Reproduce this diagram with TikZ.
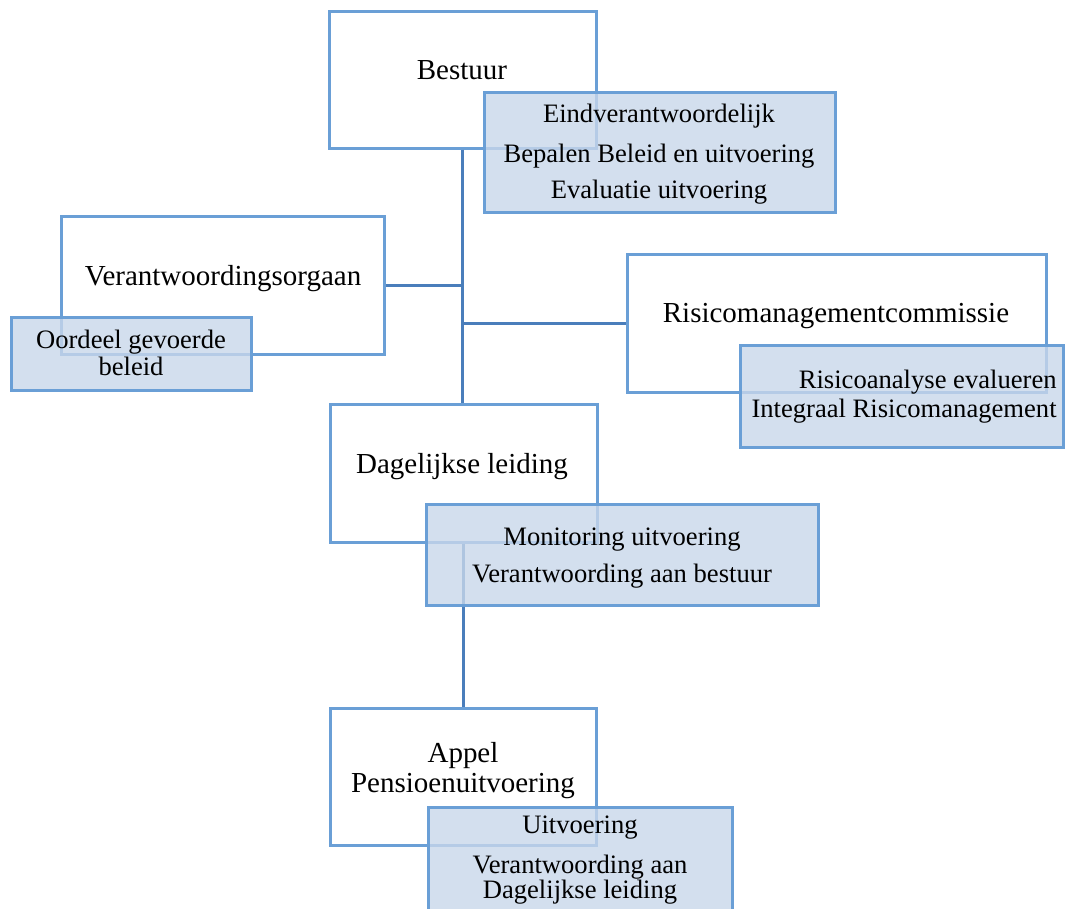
\documentclass[tikz,border=0pt]{standalone}
\usepackage{fontspec}
\setmainfont{Liberation Serif}
\definecolor{bordc}{HTML}{6A9FD6}
\definecolor{connc}{HTML}{4A7EBB}
\definecolor{fillc}{HTML}{C8D7EA}
\newcommand\mybox[6]{\node[#1, minimum width={(#4-#2)*0.5bp}, minimum height={(#5-#3)*0.5bp}] (#6) at ({(#2+#4)/2},{(#3+#5)/2}) {};}
\tikzset{
  wbox/.style={draw=bordc, line width=1.5bp, fill=white, rectangle, inner sep=0pt},
  bbox/.style={draw=bordc, line width=1.5bp, fill=fillc, fill opacity=0.8, draw opacity=1, rectangle, inner sep=0pt},
  ttl/.style={font=\fontsize{14.55}{17}\selectfont, anchor=base, inner sep=0pt},
  sub/.style={font=\fontsize{13.35}{15}\selectfont, anchor=base, inner sep=0pt},
  subr/.style={sub, anchor=base east},
  conn/.style={draw=connc, line width=1.5bp}
}
\begin{document}
\begin{tikzpicture}[x=0.5bp,y=-0.5bp]
\useasboundingbox (0,0) rectangle (1067,909);
\clip (0,0) rectangle (1067,909);
% white boxes
\mybox{wbox}{329}{11}{596}{148}{bestuur}
\mybox{wbox}{61}{216}{384}{354}{verant}
\mybox{wbox}{627}{254}{1046}{392}{risico}
\mybox{wbox}{330}{404}{597}{542}{dagelijks}
\mybox{wbox}{330}{708}{596}{845}{appel}
% connectors
\draw[conn] (bestuur.south) -- (bestuur.south |- dagelijks.north);
\draw[conn] (verant.east) -- (bestuur.south |- verant.east);
\draw[conn] (bestuur.south |- risico.west) -- (risico.west);
\draw[conn] (dagelijks.south) -- (dagelijks.south |- appel.north);
% titles
\node[ttl] (tbestuur) at (462,79) {Bestuur};
\node[ttl] (tverant) at (223,285) {Verantwoordingsorgaan};
\node[ttl] (trisico) at (836,322) {Risicomanagementcommissie};
\node[ttl] (tdag) at (462,473) {Dagelijkse leiding};
\node[ttl] (tappel1) at (463,762) {Appel};
\node[ttl] (tappel2) at (463,792) {Pensioenuitvoering};
% blue boxes
\mybox{bbox}{484}{92}{835}{212}{bbestuur}
\node[sub] (b1a) at (659,122) {Eindverantwoordelijk};
\node[sub] (b1b) at (659,162) {Bepalen Beleid en uitvoering};
\node[sub] (b1c) at (659,198) {Evaluatie uitvoering};
\mybox{bbox}{11}{317}{251}{390}{bverant}
\node[sub] (b2a) at (131,348) {Oordeel gevoerde};
\node[sub] (b2b) at (131,375) {beleid};
\mybox{bbox}{740}{345}{1063}{447}{brisico}
\node[subr] (b3a) at (1057,388) {Risicoanalyse evalueren};
\node[subr] (b3b) at (1057,417) {Integraal Risicomanagement};
\mybox{bbox}{426}{504}{818}{605}{bdag}
\node[sub] (b4a) at (622,545) {Monitoring uitvoering};
\node[sub] (b4b) at (622,582) {Verantwoording aan bestuur};
\mybox{bbox}{428}{807}{732}{930}{bappel}
\node[sub] (b5a) at (580,833) {Uitvoering};
\node[sub] (b5b) at (580,873) {Verantwoording aan};
\node[sub] (b5c) at (580,898) {Dagelijkse leiding};
\end{tikzpicture}
\end{document}
